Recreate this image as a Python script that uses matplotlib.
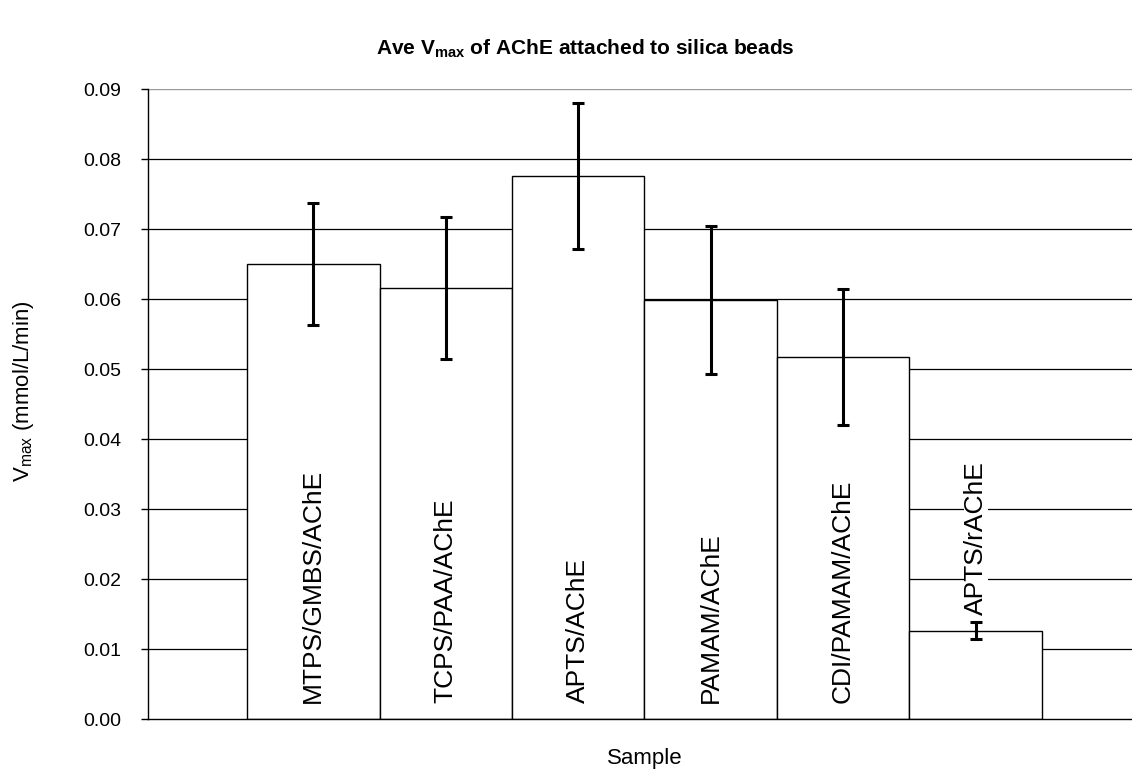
import numpy as np
import matplotlib
matplotlib.use('Agg')
import matplotlib.pyplot as plt

plt.rcParams['font.family'] = ['Liberation Sans', 'DejaVu Sans']
plt.rcParams['mathtext.fontset'] = 'custom'
plt.rcParams['mathtext.rm'] = 'Liberation Sans'
plt.rcParams['mathtext.bf'] = 'Liberation Sans:bold'

# Data
samples = ['MTPS/GMBS/AChE', 'TCPS/PAA/AChE', 'APTS/AChE',
           'PAMAM/AChE', 'CDI/PAMAM/AChE', 'APTS/rAChE']
vmax = [0.0650, 0.0616, 0.0776, 0.0599, 0.0517, 0.0126]
vmax_err = [0.0087, 0.0101, 0.0104, 0.0106, 0.0097, 0.0012]
yticks = [0.00, 0.01, 0.02, 0.03, 0.04, 0.05, 0.06, 0.07, 0.08, 0.09]

# where each sample name sits (bottom of the rotated text)
label_y = [0.0023, 0.0023, 0.0023, 0.0023, 0.0023, 0.0149]

fig = plt.figure(figsize=(11.32, 7.69), dpi=100)
# axes run off the right edge like the cropped original
ax = fig.add_axes([0.1305, 0.065, 0.8775, 0.819])

x = np.arange(len(samples))
ax.bar(x, vmax, width=1.0, color='white', edgecolor='black', linewidth=1.0, zorder=2)
ax.errorbar(x, vmax, yerr=vmax_err, fmt='none', ecolor='black',
            elinewidth=2.2, capsize=4.5, capthick=2.2, zorder=3)

for xi, yi, name in zip(x, label_y, samples):
    ax.text(xi, yi, name, rotation=90, ha='center', va='bottom', fontsize=19,
            bbox=dict(facecolor='white', edgecolor='none', pad=0), zorder=4)

ax.set_xlim(-1.25, 6.25)
ax.set_ylim(0, 0.09)
ax.set_yticks(yticks)
ax.set_yticklabels(['%.2f' % t for t in yticks])
ax.set_xticks([])

# horizontal grid sits behind the bars
for t in yticks[1:-1]:
    ax.axhline(t, color='black', linewidth=0.9, zorder=1)
ax.axhline(0.09, color='#999999', linewidth=1.0, zorder=1)

for s in ['top', 'right']:
    ax.spines[s].set_visible(False)
ax.spines['left'].set_linewidth(1.0)
ax.spines['bottom'].set_linewidth(1.0)
ax.tick_params(axis='y', direction='out', length=5, width=1.0, pad=14, labelsize=14)

ax.set_xlabel('Sample', fontsize=16, labelpad=21)
ax.set_ylabel(r'V$_{\mathrm{max}}$ (mmol/L/min)', fontsize=16)
ax.yaxis.set_label_coords(-0.112, 0.52)

fig.text(0.517, 0.937, r'Ave V$_{\mathbf{max}}$ of AChE attached to silica beads',
         ha='center', va='center', fontsize=15, fontweight='bold')

fig.savefig('out.png', dpi=100)
